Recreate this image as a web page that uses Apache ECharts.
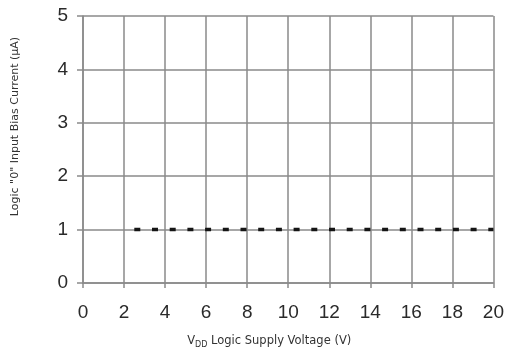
<!DOCTYPE html>
<html><head><meta charset="utf-8">
<script src="https://cdn.jsdelivr.net/npm/echarts@6/dist/echarts.min.js"></script>
<style>html,body{margin:0;padding:0;background:#fff}#c{width:507px;height:356px}</style>
</head><body><div id="c"></div>
<script>
var xTicks = [0, 2, 4, 6, 8, 10, 12, 14, 16, 18, 20];
var yTicks = [0, 1, 2, 3, 4, 5];
var seriesX = [2.5, 20];
var seriesY = [1, 1];

var chart = echarts.init(document.getElementById('c'));
var font = '"Liberation Sans", Arial, sans-serif';
var tfont = '"DejaVu Sans", sans-serif';
chart.setOption({
  animation: false,
  grid: {left: 83, right: 12, top: 16, bottom: 73},
  xAxis: {
    type: 'value', min: xTicks[0], max: xTicks[xTicks.length - 1], interval: 2,
    axisLine: {lineStyle: {color: '#8a8a8a', width: 1.5}},
    axisTick: {show: true, length: 5, lineStyle: {color: '#8a8a8a', width: 1.5}},
    splitLine: {show: true, lineStyle: {color: '#8a8a8a', width: 1.5}},
    axisLabel: {color: '#2a2a2a', fontSize: 19, fontFamily: font, margin: 20},
    name: '{a|V}{b|DD}{a| Logic Supply Voltage (V)}',
    nameLocation: 'middle', nameGap: 51,
    nameTextStyle: {padding: [0, 38, 0, 0], rich: {
      a: {fontSize: 11.5, fontFamily: tfont, color: '#333', lineHeight: 13, verticalAlign: 'bottom'},
      b: {fontSize: 8, fontFamily: tfont, color: '#333', lineHeight: 10, verticalAlign: 'bottom', padding: [0, 0, -2, 0]}
    }}
  },
  yAxis: {
    type: 'value', min: yTicks[0], max: yTicks[yTicks.length - 1], interval: 1,
    axisLine: {show: true, lineStyle: {color: '#8a8a8a', width: 1.5}},
    axisTick: {show: true, length: 6, lineStyle: {color: '#8a8a8a', width: 1.5}},
    splitLine: {show: true, lineStyle: {color: '#8a8a8a', width: 1.5}},
    axisLabel: {color: '#2a2a2a', fontSize: 19, fontFamily: font, margin: 15},
    name: 'Logic "0" Input Bias Current (μA)',
    nameLocation: 'middle', nameGap: 62,
    nameTextStyle: {fontSize: 11, fontFamily: tfont, color: '#333', padding: [0, 0, 0, 46]}
  },
  series: [{
    type: 'line', symbol: 'none',
    data: seriesX.map(function (x, i) { return [x, seriesY[i]]; }),
    lineStyle: {color: '#151515', width: 3.5, type: [6, 11.7]}
  }]
});
</script></body></html>
